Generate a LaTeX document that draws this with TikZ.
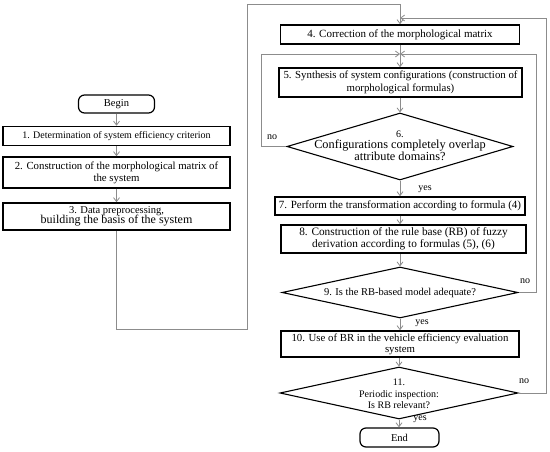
\documentclass[tikz,border=0pt]{standalone}
\usepackage{fontspec}
\setmainfont{Liberation Serif}
\usetikzlibrary{arrows.meta,shapes.geometric}
\definecolor{linegray}{RGB}{140,140,140}
\newcommand{\fs}[1]{\fontsize{#1}{1.2\dimexpr #1pt\relax}\selectfont}
\tikzset{
  procbox/.style={draw=black,line width=1.5pt,inner sep=0pt,align=center,font=\fs{10.5}},
  termbox/.style={draw=black,line width=1.2pt,rounded corners=6pt,inner sep=0pt,font=\fs{10.5}},
  decis/.style={draw=black,line width=1.1pt,diamond,inner sep=0pt},
  dtext/.style={align=center,inner sep=0pt,font=\fs{10.5}},
  lbl/.style={inner sep=0pt,font=\fs{10}},
  flow/.style={draw=linegray,line width=0.8pt,-{Straight Barb[length=4pt,width=6pt,line width=0.8pt]}},
  plain/.style={draw=linegray,line width=0.8pt}
}
\begin{document}
\begin{tikzpicture}[x=1pt,y=-1pt]
\useasboundingbox (0,0) rectangle (550,452);
% left column
\node[termbox,minimum width=76pt,minimum height=18pt] (begin) at (116.5,104) {Begin};
\node[procbox,minimum width=227pt,minimum height=19pt,font=\fs{10}] (b1) at (116.5,136) {1. Determination of system efficiency criterion};
\node[procbox,minimum width=227pt,minimum height=31pt,font=\fs{10.8}] (b2) at (116.5,172.5) {2. Construction of the morphological matrix of\\[-1pt]the system};
\node[procbox,minimum width=227pt,minimum height=27pt] (b3) at (116.5,216.5) {{\fs{10.5}3. Data preprocessing,}\\[-2pt]{\fs{12}building the basis of the system}};
% right column
\node[procbox,minimum width=239pt,minimum height=19pt,font=\fs{11}] (b4) at (400,34.5) {4. Correction of the morphological matrix};
\node[procbox,minimum width=243pt,minimum height=29pt,font=\fs{10.8}] (b5) at (400.5,82.5) {5. Synthesis of system configurations (construction of\\morphological formulas)};
\node[decis,minimum width=226pt,minimum height=67pt] (d6) at (400,146.5) {};
\node[dtext] (t6) at (400,146) {{\fs{10}6.}\\[-2pt]{\fontsize{12.3}{12.5}\selectfont Configurations completely overlap}\\{\fontsize{12.3}{12.5}\selectfont attribute domains?}};
\node[procbox,minimum width=250pt,minimum height=18pt,font=\fs{11}] (b7) at (400,206) {7. Perform the transformation according to formula (4)};
\node[procbox,minimum width=245pt,minimum height=28pt,font=\fs{11.3}] (b8) at (403.5,239) {8. Construction of the rule base (RB) of fuzzy\\[-2pt]derivation according to formulas (5), (6)};
\node[decis,minimum width=236pt,minimum height=51pt] (d9) at (400,292.5) {};
\node[dtext,font=\fs{10.5}] (t9) at (400,292.5) {9. Is the RB-based model adequate?};
\node[procbox,minimum width=238pt,minimum height=26pt,font=\fs{10.8}] (b10) at (400,344) {10. Use of BR in the vehicle efficiency evaluation\\[-2pt]system};
\node[decis,minimum width=238pt,minimum height=52pt] (d11) at (399,393) {};
\node[dtext,font=\fontsize{10}{11.5}\selectfont] (t11) at (399,394) {11.\\Periodic inspection:\\Is RB relevant?};
\node[termbox,minimum width=79pt,minimum height=19pt] (end) at (399.5,437.5) {End};
% labels
\node[lbl] (no6) at (272,137) {no};
\node[lbl] (yes6) at (425,189) {yes};
\node[lbl] (no9) at (525,281) {no};
\node[lbl] (yes9) at (422,323) {yes};
\node[lbl] (no11) at (524,381) {no};
\node[lbl] (yes11) at (420,419) {yes};
% routing coordinates
\coordinate (p1) at (247,329);
\coordinate (p2) at (247,4);
\coordinate (p3) at (400,4);
\coordinate (j5) at (400,54);
\coordinate (j4) at (400,18);
\coordinate (l6a) at (261,146.5);
\coordinate (l6b) at (261,54);
\coordinate (r9a) at (536,292.5);
\coordinate (r9b) at (536,54);
\coordinate (r11a) at (546,393);
\coordinate (r11b) at (546,18);
% connectors
\draw[flow] (begin) -- (b1);
\draw[flow] (b1) -- (b2);
\draw[flow] (b2) -- (b3);
\draw[flow] (b3.south) |- (p1) -- (p2) -- (p3) -- (b4.north);
\draw[flow] (b4.south) -- (b5.north -| b4.south);
\draw[flow] (b5.south -| d6.north) -- (d6.north);
\draw[flow] (d6.south) -- (b7.north -| d6.south);
\draw[flow] (b7.south) -- (b8.north -| b7.south);
\draw[flow] (b8.south -| d9.north) -- (d9.north);
\draw[flow] (d9.south) -- (b10.north -| d9.south);
\draw[flow] (b10.south -| d11.north) -- (d11.north);
\draw[flow] (d11.south) -- (end.north -| d11.south);
\draw[flow] (d6.west) -- (l6a) -- (l6b) -- (j5);
\draw[flow] (d9.east) -- (r9a) -- (r9b) -- (j5);
\draw[flow] (d11.east) -- (r11a) -- (r11b) -- (j4);
\end{tikzpicture}
\end{document}
